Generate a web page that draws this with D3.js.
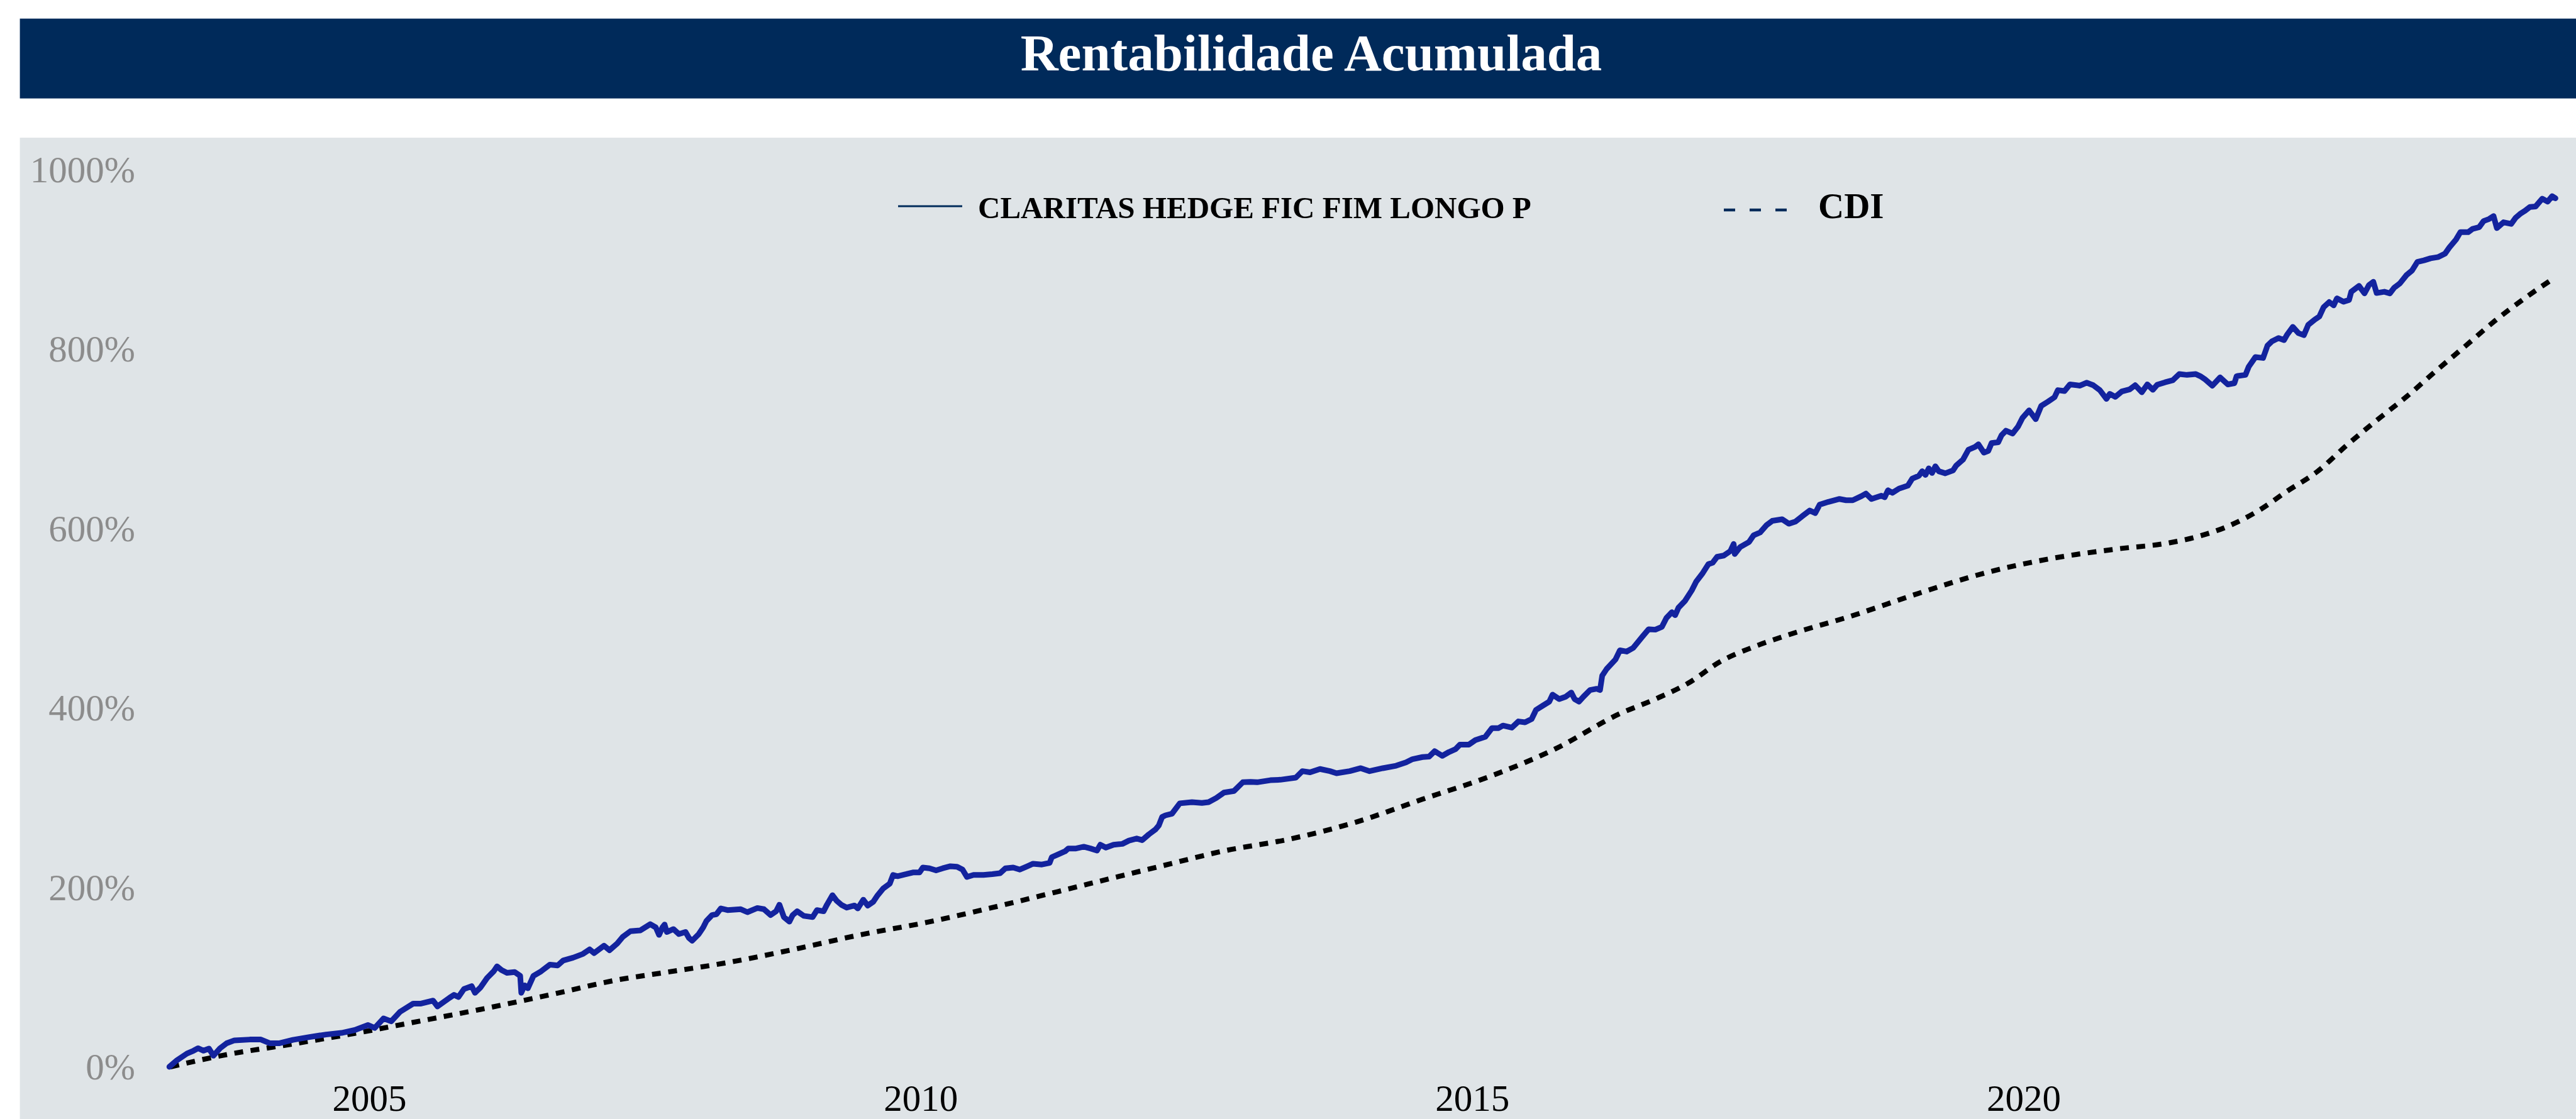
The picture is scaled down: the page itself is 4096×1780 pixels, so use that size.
<!DOCTYPE html>
<html>
<head>
<meta charset="utf-8">
<script src="https://cdn.jsdelivr.net/npm/d3@7"></script>
<style>
  body { margin: 0; background: #ffffff; }
  svg { display: block; }
</style>
</head>
<body>
<div id="chart"></div>
<script>
// Series (decimal year, cumulative %)
const fundYears = [
  2003.19, 2003.26, 2003.35, 2003.41, 2003.45, 2003.50, 2003.55, 2003.59, 2003.65, 2003.71, 2003.78, 2003.92,
  2004.02, 2004.10, 2004.19, 2004.31, 2004.46, 2004.61, 2004.75, 2004.87, 2004.99,
  2005.05, 2005.13, 2005.20, 2005.28, 2005.40, 2005.47, 2005.58, 2005.62, 2005.73, 2005.77, 2005.81, 2005.86, 2005.93, 2005.96,
  2006.01, 2006.07, 2006.13, 2006.16, 2006.20, 2006.25, 2006.32, 2006.37, 2006.38, 2006.41, 2006.44, 2006.49, 2006.56, 2006.64, 2006.71, 2006.76, 2006.85, 2006.94,
  2007.00, 2007.04, 2007.13, 2007.18, 2007.25, 2007.30, 2007.37, 2007.46, 2007.55, 2007.60, 2007.63, 2007.66, 2007.68, 2007.70, 2007.76, 2007.81, 2007.87, 2007.90, 2007.93, 2007.99,
  2008.03, 2008.06, 2008.11, 2008.15, 2008.19, 2008.25, 2008.37, 2008.43, 2008.52, 2008.58, 2008.64, 2008.69, 2008.72, 2008.76, 2008.81, 2008.84, 2008.88, 2008.94,
  2009.02, 2009.06, 2009.12, 2009.15, 2009.20, 2009.24, 2009.28, 2009.33, 2009.40, 2009.43, 2009.48, 2009.52, 2009.57, 2009.61, 2009.66, 2009.72, 2009.75, 2009.79, 2009.87, 2009.93, 2009.99,
  2010.02, 2010.08, 2010.14, 2010.20, 2010.27, 2010.33, 2010.38, 2010.42, 2010.48, 2010.57, 2010.65, 2010.72, 2010.77, 2010.84, 2010.90, 2010.96,
  2011.02, 2011.10, 2011.17, 2011.19, 2011.25, 2011.31, 2011.34, 2011.41, 2011.48, 2011.54, 2011.60, 2011.63, 2011.68, 2011.75, 2011.83, 2011.89, 2011.96,
  2012.01, 2012.07, 2012.13, 2012.16, 2012.19, 2012.22, 2012.28, 2012.35, 2012.46, 2012.55, 2012.61, 2012.68, 2012.75, 2012.84, 2012.92, 2012.99,
  2013.05, 2013.17, 2013.26, 2013.40, 2013.46, 2013.53, 2013.62, 2013.71, 2013.77, 2013.89, 2013.99,
  2014.07, 2014.19, 2014.31, 2014.40, 2014.46, 2014.55, 2014.61, 2014.66, 2014.73, 2014.79, 2014.85, 2014.89, 2014.97,
  2015.03, 2015.12, 2015.18, 2015.24, 2015.28, 2015.36, 2015.42, 2015.48, 2015.54, 2015.58, 2015.64, 2015.70, 2015.73, 2015.79, 2015.85, 2015.90, 2015.93, 2015.97,
  2016.01, 2016.07, 2016.13, 2016.16, 2016.18, 2016.22, 2016.30, 2016.34, 2016.40, 2016.46, 2016.54, 2016.60, 2016.66, 2016.72, 2016.76, 2016.81, 2016.84, 2016.87, 2016.93, 2016.99,
  2017.03, 2017.09, 2017.14, 2017.18, 2017.22, 2017.28, 2017.34, 2017.37, 2017.38, 2017.43, 2017.51, 2017.55, 2017.61, 2017.67, 2017.72, 2017.81, 2017.87, 2017.93, 2017.99,
  2018.06, 2018.11, 2018.15, 2018.23, 2018.33, 2018.39, 2018.45, 2018.53, 2018.57, 2018.62, 2018.71, 2018.74, 2018.77, 2018.81, 2018.87, 2018.95, 2018.99,
  2019.05, 2019.08, 2019.11, 2019.14, 2019.17, 2019.20, 2019.23, 2019.29, 2019.36, 2019.39, 2019.45, 2019.50, 2019.56, 2019.59, 2019.64, 2019.68, 2019.71, 2019.77, 2019.80, 2019.84, 2019.90, 2019.95, 2019.99,
  2020.05, 2020.11, 2020.16, 2020.22, 2020.28, 2020.31, 2020.37, 2020.42, 2020.51, 2020.57, 2020.63, 2020.69, 2020.75, 2020.78, 2020.83, 2020.89, 2020.96,
  2021.01, 2021.07, 2021.12, 2021.17, 2021.21, 2021.28, 2021.35, 2021.41, 2021.48, 2021.56, 2021.60, 2021.64, 2021.71, 2021.78, 2021.85, 2021.91, 2021.93,
  2022.01, 2022.04, 2022.10, 2022.17, 2022.21, 2022.25, 2022.31, 2022.36, 2022.39, 2022.44, 2022.49, 2022.54, 2022.58, 2022.64, 2022.68, 2022.72, 2022.77, 2022.81, 2022.84, 2022.90, 2022.95, 2022.97,
  2023.04, 2023.09, 2023.13, 2023.17, 2023.20, 2023.27, 2023.32, 2023.36, 2023.41, 2023.47, 2023.52, 2023.57, 2023.63, 2023.69, 2023.76, 2023.82, 2023.86, 2023.92, 2023.96,
  2024.03, 2024.07, 2024.13, 2024.17, 2024.22, 2024.26, 2024.29, 2024.35, 2024.42, 2024.46, 2024.50, 2024.54, 2024.59, 2024.64, 2024.70, 2024.75, 2024.79, 2024.82
];
const fundValues = [
  0, 7.4, 14.8, 18, 20.7, 18, 20.3, 12.4, 20.7, 26.3, 29.5, 30.4,
  30.4, 26.3, 26.3, 30, 33.2, 36, 37.8, 41, 46.6,
  43.3, 53.9, 50.7, 61.3, 70.5, 70.5, 73.8, 67.3, 77, 80.2, 77.9, 86.7, 89.9, 82.5,
  88.5, 99.1, 106.5, 112, 107.9, 104.7, 105.6, 101.4, 82.5, 90.8, 87.6, 101.4, 106.5, 113.9, 113, 118.5, 121.7, 125.9,
  130.9, 126.8, 135, 130, 137.4, 144.8, 151.2, 152.1, 159, 155.4, 147.1, 155.4, 158.6, 150.3, 153.5, 148, 150.3, 143.8, 140.6, 148,
  155.4, 162.7, 169.2, 170.1, 176.6, 174.7, 175.7, 172.4, 177, 175.7, 169.2, 173.4, 180.7, 166.9, 161.8, 169.2, 173.4, 168.3,
  166.9, 174.7, 173.4, 180.7, 191.3, 184.9, 180.7, 177.5, 179.8, 176.6, 186.3, 179.8, 184, 191.3, 198.7, 204.2, 213.9, 212.5, 214.8, 216.7, 216.7,
  222.2, 221.3, 219, 221.3, 223.6, 223.1, 219.9, 211.6, 213.9, 213.9, 214.8, 215.8, 221.3, 222.2, 219.9, 223.1,
  226.4, 225.5, 227.3, 233.7, 237, 240.2, 243.4, 243.4, 245.3, 243.4, 241.1, 247.6, 244.4, 247.6, 248.5, 252.2, 254.5,
  252.7, 259.1, 264.6, 269, 278.5, 280.3, 282.2, 293.7, 295, 294.1, 295, 299.7, 305.7, 307.5, 317.2, 317.7,
  317.2, 319.5, 320, 322.3, 329.6, 328.3, 332, 329.6, 327.3, 329.6, 332.9,
  329.6, 332.9, 335.6, 339.3, 343, 345.3, 345.8, 351.8, 346.7, 350.9, 354.1, 359.2, 359.2,
  364.2, 367.9, 377.6, 377.6, 380.4, 378.1, 385, 384, 387.7, 397.9, 402.5, 407.1, 414.9, 409.9, 412.6, 417.2, 409.9, 407.1,
  412.6, 420, 421.4, 420, 436.1, 443.5, 454.1, 464.3, 462.9, 467, 479, 487.8, 487.3, 490.5, 500.2, 506.7, 503.5, 511.8, 519.6, 531.1,
  540.8, 550.5, 560.2, 562, 568.5, 569.9, 574.9, 582.8, 571.7, 579.5, 585.1, 592.4, 595.7, 604, 608.6, 610.4, 605.4, 607.7, 613.6,
  620.1, 617.3, 626.6, 629.8, 633, 631.6, 631.6, 636.2, 639, 633, 636.7, 634.9, 642.7, 639.9, 644.5, 647.8, 655.6,
  658.8, 663.9, 659.8, 667.1, 662, 669.4, 663.9, 661.6, 664.8, 670.4, 676.8, 687.9, 691.1, 693.9, 684.7, 686.5, 695.3, 696.2, 704, 709.1, 705.9, 713.7, 723.4,
  731.7, 722, 736.8, 741.4, 746.4, 754.3, 753.3, 760.7, 759.3, 762.6, 759.8, 754.3, 744.6, 750.1, 746.9, 752.9, 755.2,
  759.8, 752, 760.7, 754.7, 760.3, 763, 765.3, 772.2, 771.3, 772.2, 769.9, 766.7, 759.3, 768.5, 760.7, 762.1, 769.9,
  771.3, 780.5, 791.1, 790.2, 804, 808.7, 812.4, 810.1, 816.5, 824.8, 817.9, 815.6, 827.1, 833.1, 836.3, 846.9, 852.5, 848.8, 856.6, 852.9, 854.8, 864,
  870.5, 862.2, 871.4, 875.1, 862.6, 864, 862.2, 868.6, 873.2, 882.4, 887.5, 897.2, 899, 901.3, 902.7, 906.4, 913.3, 922.1, 930.4,
  930.4, 934.1, 935.9, 942.8, 945.1, 948.3, 935, 941.4, 939.6, 946.5, 950.7, 953.9, 958.5, 959, 967.7, 964.5, 970.5, 968.2
];

const cdiYears = [
  2003.20, 2003.68, 2004.28, 2004.87, 2005.47, 2006.07, 2006.67, 2007.27, 2007.66, 2008.25, 2008.85, 2009.45,
  2010.05, 2010.65, 2011.25, 2011.84, 2012.16, 2012.75, 2013.35, 2013.95, 2014.55, 2015.15, 2015.75, 2016.34,
  2016.66, 2016.96, 2017.25, 2017.55, 2017.85, 2018.45, 2019.05, 2019.65, 2020.25, 2020.84, 2021.32, 2021.59,
  2021.86, 2022.13, 2022.39, 2022.66, 2022.93, 2023.20, 2023.47, 2023.74, 2024.01, 2024.27, 2024.54, 2024.79
];
const cdiValues = [
  0, 12.9, 24.9, 37.3, 51.2, 65.5, 81.1, 97.3, 104.7, 116.2, 130.9, 147.1,
  160.9, 177.5, 195.5, 213.5, 223.1, 240.7, 254, 272.9, 298.3, 323.2, 354.1, 393.7,
  409.9, 427.8, 451.8, 468, 480.9, 503, 527.9, 550.5, 566.6, 577.2, 584.1, 591.5,
  603, 620.1, 641.8, 663.4, 693, 720.6, 746.9, 775.9, 804, 831.3, 856.6, 877.8
];

const yTicks = [0, 200, 400, 600, 800, 1000];
const xTickYears = [2005, 2010, 2015, 2020];
const chartTitle = 'Rentabilidade Acumulada';
const seriesNames = ['CLARITAS HEDGE FIC FIM LONGO P', 'CDI'];

// decimal year -> Date
function yearToDate(t) {
  const y = Math.floor(t);
  const start = new Date(y, 0, 1), end = new Date(y + 1, 0, 1);
  return new Date(+start + (t - y) * (end - start));
}

const fund = fundYears.map((t, i) => ({ date: yearToDate(t), value: fundValues[i] }));
const cdi = cdiYears.map((t, i) => ({ date: yearToDate(t), value: cdiValues[i] }));

const width = 4096, height = 1780;
const serif = '"Liberation Serif", "Times New Roman", Times, serif';

const svg = d3.select('#chart')
  .append('svg')
  .attr('width', width)
  .attr('height', height);

// Title bar
svg.append('rect')
  .attr('x', 31.6).attr('y', 29.6)
  .attr('width', width - 31.6).attr('height', 127)
  .attr('fill', '#002a5a');

svg.append('text')
  .attr('x', 2085).attr('y', 112)
  .attr('text-anchor', 'middle')
  .attr('font-family', serif)
  .attr('font-weight', 'bold')
  .attr('font-size', 83)
  .attr('fill', '#ffffff')
  .text(chartTitle);

// Plot background
svg.append('rect')
  .attr('x', 31.6).attr('y', 219)
  .attr('width', width - 31.6).attr('height', height - 219)
  .attr('fill', '#dfe4e7');

// Scales
const x = d3.scaleTime()
  .domain([new Date(2005, 0, 1), new Date(2020, 0, 1)])
  .range([587, 3217.6]);

const y = d3.scaleLinear()
  .domain([0, 1000])
  .range([1697, 270]);

// Y axis
const yAxis = svg.append('g')
  .attr('transform', 'translate(215,0)')
  .call(d3.axisLeft(y).tickValues(yTicks).tickSize(0).tickPadding(0).tickFormat(d => d + '%'));
yAxis.select('.domain').remove();
yAxis.selectAll('text')
  .attr('font-family', serif)
  .attr('font-size', 59)
  .attr('fill', '#8c8c8c')
  .attr('dy', '0.33em');

// X axis
const xAxis = svg.append('g')
  .attr('transform', 'translate(0,1767)')
  .call(d3.axisBottom(x)
    .tickValues(xTickYears.map(yr => new Date(yr, 0, 1)))
    .tickSize(0).tickPadding(0)
    .tickFormat(d3.timeFormat('%Y')));
xAxis.select('.domain').remove();
xAxis.selectAll('text')
  .attr('font-family', serif)
  .attr('font-size', 59)
  .attr('fill', '#000000')
  .attr('dy', 0);

// CDI line (dashed)
svg.append('path')
  .datum(cdi)
  .attr('fill', 'none')
  .attr('stroke', '#000000')
  .attr('stroke-width', 8)
  .attr('stroke-dasharray', '14,12')
  .attr('d', d3.line().x(d => x(d.date)).y(d => y(d.value)).curve(d3.curveMonotoneX));

// Fund line
svg.append('path')
  .datum(fund)
  .attr('fill', 'none')
  .attr('stroke', '#13239e')
  .attr('stroke-width', 9)
  .attr('stroke-linejoin', 'round')
  .attr('stroke-linecap', 'round')
  .attr('d', d3.line().x(d => x(d.date)).y(d => y(d.value)));

// Legend
const legend = svg.append('g');
legend.append('line')
  .attr('x1', 1428).attr('x2', 1530)
  .attr('y1', 328).attr('y2', 328)
  .attr('stroke', '#002a5a').attr('stroke-width', 3);
legend.append('text')
  .attr('x', 1555).attr('y', 347)
  .attr('font-family', serif).attr('font-weight', 'bold')
  .attr('font-size', 49).attr('fill', '#000000')
  .text(seriesNames[0]);

legend.append('line')
  .attr('x1', 2741).attr('x2', 2841)
  .attr('y1', 334).attr('y2', 334)
  .attr('stroke', '#002a5a').attr('stroke-width', 4.5)
  .attr('stroke-dasharray', '18,23');
legend.append('text')
  .attr('x', 2891).attr('y', 347)
  .attr('font-family', serif).attr('font-weight', 'bold')
  .attr('font-size', 57).attr('fill', '#000000')
  .text(seriesNames[1]);
</script>
</body>
</html>
